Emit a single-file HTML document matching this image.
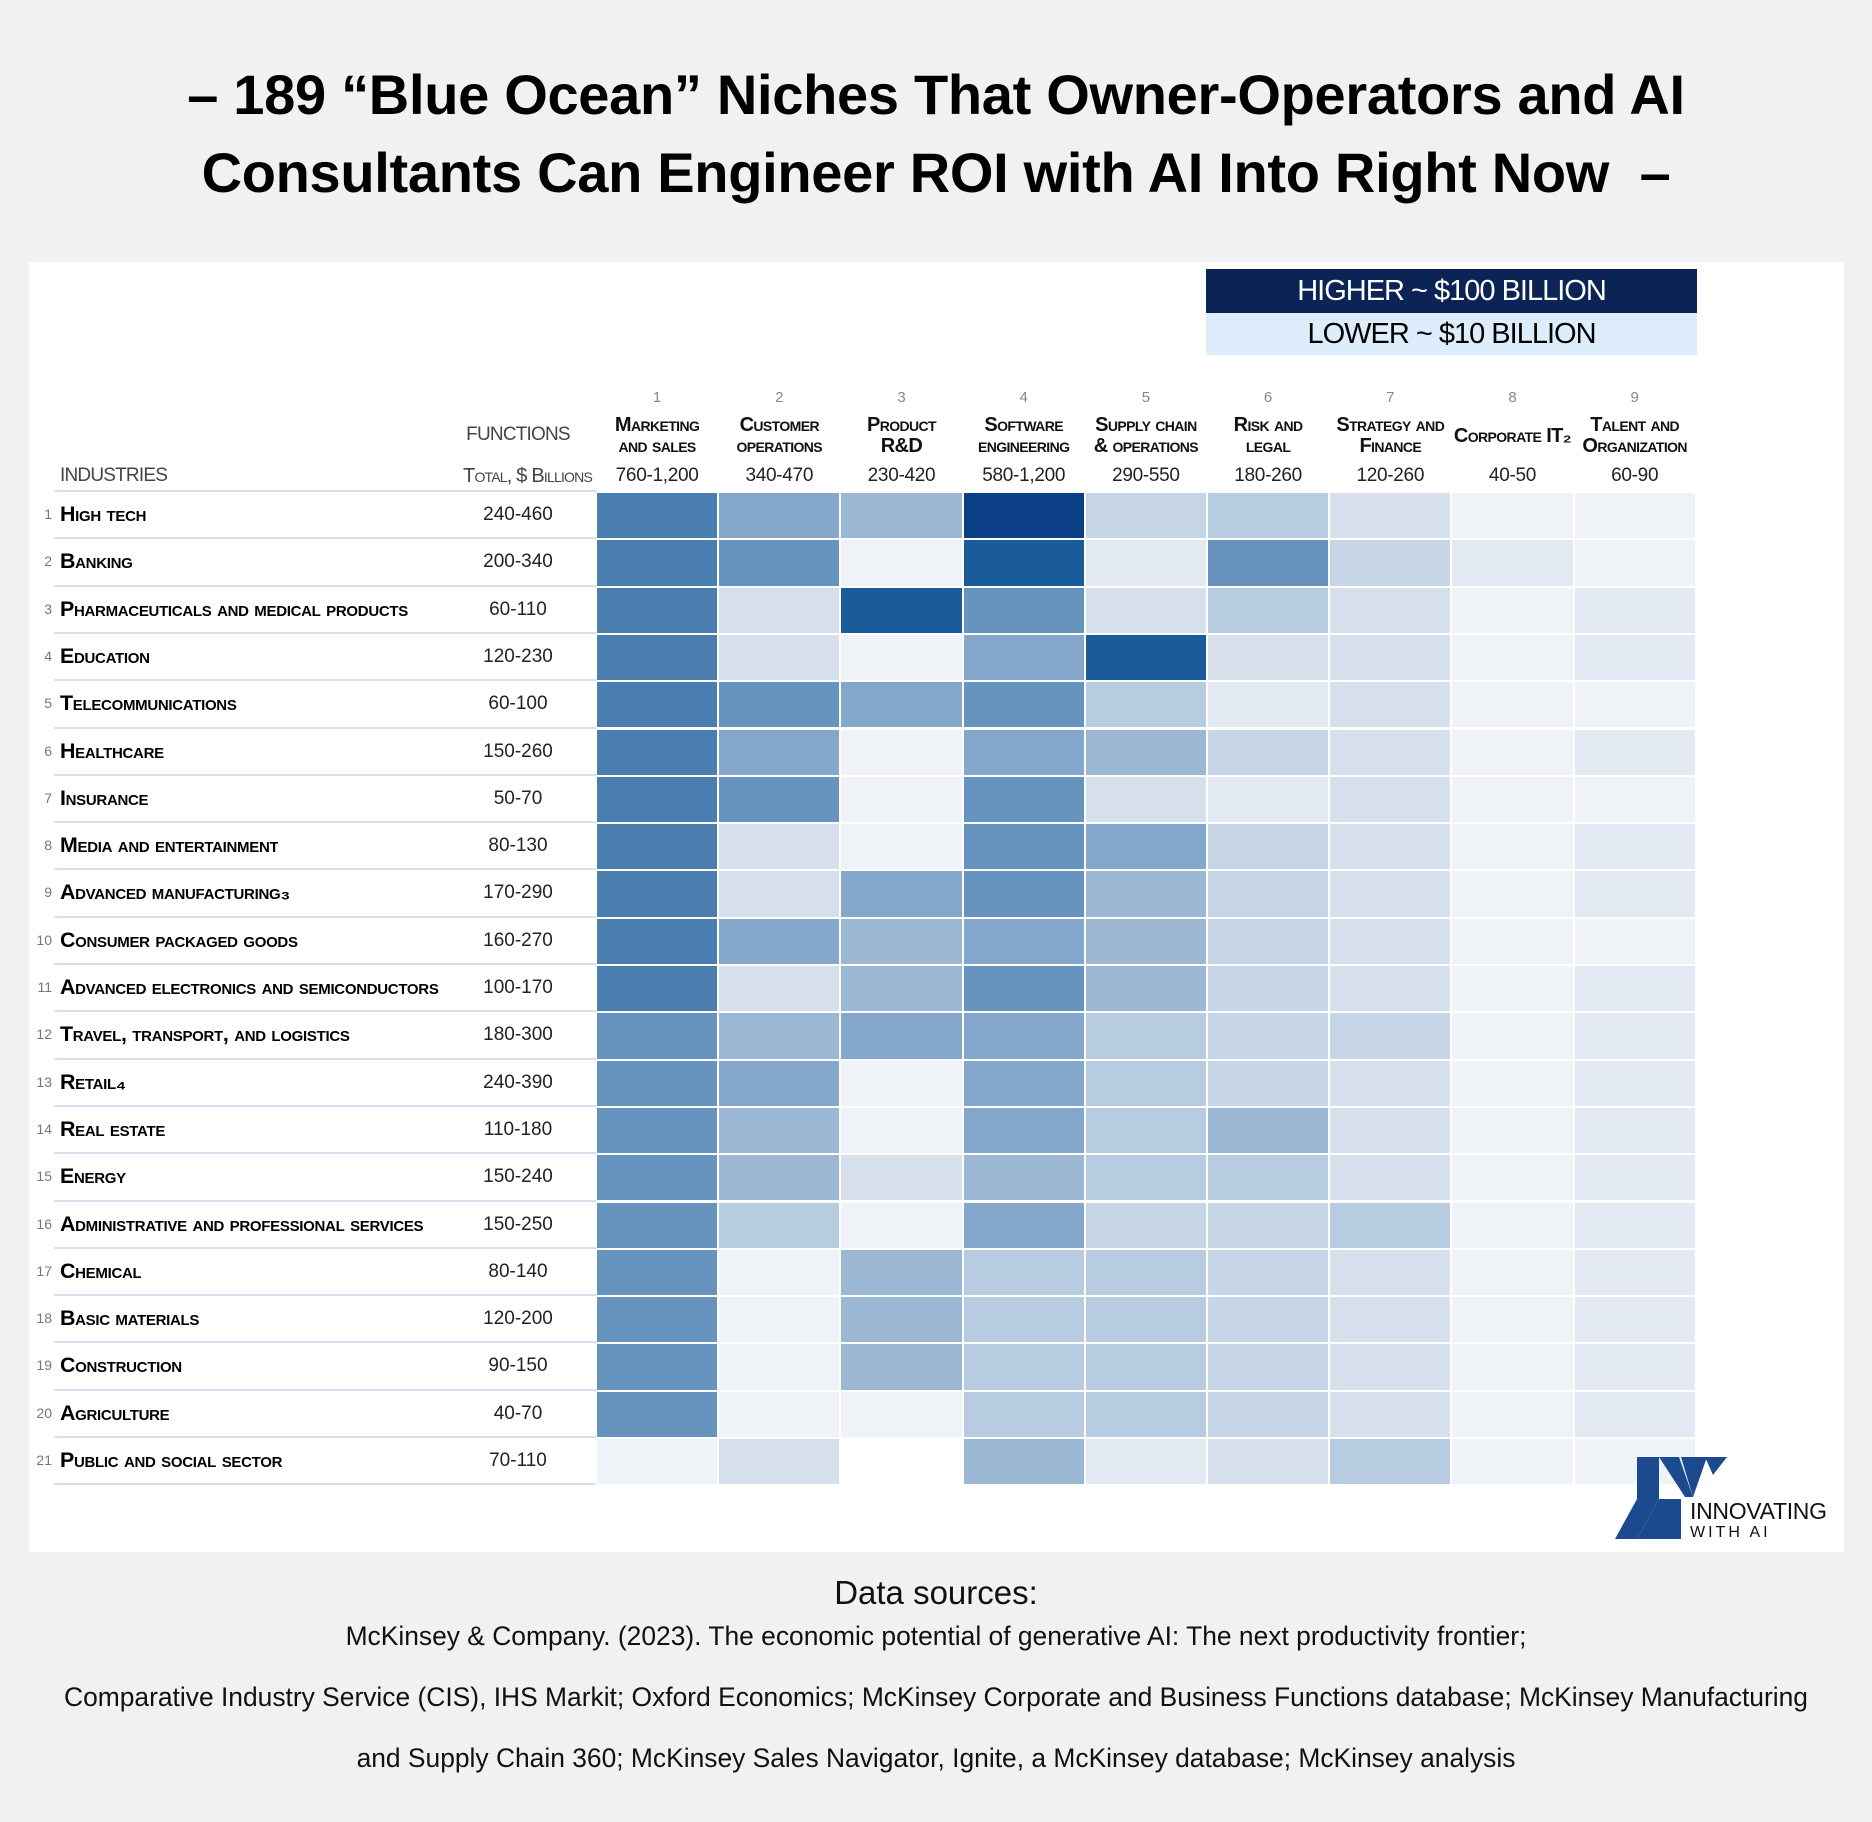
<!DOCTYPE html>
<html><head><meta charset="utf-8">
<style>
html,body{margin:0;padding:0}
body{width:1872px;height:1822px;background:#f1f1f1;position:relative;overflow:hidden;font-family:"Liberation Sans",sans-serif}
.t{position:absolute;left:0;width:1872px;text-align:center;font-weight:900;font-size:56px;color:#000;letter-spacing:-0.3px;white-space:nowrap}
#panel{position:absolute;left:29px;top:262px;width:1815px;height:1290px;background:#fff}
.a{position:absolute;white-space:nowrap}
.sc{font-variant:small-caps;font-weight:bold;letter-spacing:-0.3px}
.hd{text-align:center;font-size:20px;line-height:21px;color:#111;font-variant:small-caps;font-weight:bold;letter-spacing:-0.6px}
.cell{position:absolute}
.src{position:absolute;left:0;width:1872px;text-align:center;color:#111;white-space:nowrap}
</style></head><body>
<div class="t" style="top:62px">– 189 “Blue Ocean” Niches That Owner-Operators and AI</div>
<div class="t" style="top:140px">Consultants Can Engineer ROI with AI Into Right Now&nbsp; –</div>
<div id="panel"></div>
<div class="a" style="left:1206px;top:269px;width:491px;height:44px;background:#0b2455;color:#fff;font-size:29px;line-height:44px;text-align:center;letter-spacing:-1px">HIGHER ~ $100 BILLION</div>
<div class="a" style="left:1206px;top:313px;width:491px;height:42px;background:#deedfb;color:#000;font-size:29px;line-height:42px;text-align:center;letter-spacing:-1px">LOWER ~ $10 BILLION</div>
<div class="a" style="left:440px;top:424px;width:156px;text-align:center;font-size:19px;color:#444;letter-spacing:-0.8px">FUNCTIONS</div>
<div class="a" style="left:60px;top:465px;font-size:19px;color:#444;letter-spacing:-0.8px">INDUSTRIES</div>
<div class="a" style="left:400px;top:465px;width:192px;text-align:right;font-size:20px;color:#444;font-variant:small-caps;letter-spacing:-0.8px">Total, $ Billions</div>
<div id="g"></div>
<svg class="a" style="left:1615px;top:1455px" width="120" height="86" viewBox="0 0 120 86">
<g fill="#1b4b8e">
<rect x="22" y="2" width="22" height="42"/>
<polygon points="44,2 64,2 78,42 70,42"/>
<polygon points="66,2 92,2 78,42"/>
<polygon points="90,2 112,2 98,20"/>
<polygon points="22,44 44,44 22,84"/>
<polygon points="0,84 22,44 22,84"/>
<rect x="44" y="44" width="22" height="40"/>
<polygon points="22,84 44,44 44,84"/>
</g>
</svg>
<div class="a" style="left:1690px;top:1498px;font-size:23px;color:#111;letter-spacing:-0.3px">INNOVATING</div>
<div class="a" style="left:1690px;top:1524px;font-size:16px;color:#111;letter-spacing:3px">WITH AI</div>
<div class="src" style="top:1574px;font-size:33px">Data sources:</div>
<div class="src" style="top:1621px;font-size:26.4px">McKinsey &amp; Company. (2023). The economic potential of generative AI: The next productivity frontier;</div>
<div class="src" style="top:1682px;font-size:26.4px">Comparative Industry Service (CIS), IHS Markit; Oxford Economics; McKinsey Corporate and Business Functions database; McKinsey Manufacturing</div>
<div class="src" style="top:1743px;font-size:26.4px">and Supply Chain 360; McKinsey Sales Navigator, Ignite, a McKinsey database; McKinsey analysis</div>
<script>
var C=["#eff3f8","#e2e9f2","#d5e0ec","#c7d6e6","#b7cbe1","#9db8d4","#86a7cc","#6794bf","#4a7eb0","#1a5b9b","#0b3f86","#ffffff"];
var names=["High tech","Banking","Pharmaceuticals and medical products","Education","Telecommunications","Healthcare","Insurance","Media and entertainment","Advanced manufacturing₃","Consumer packaged goods","Advanced electronics and semiconductors","Travel, transport, and logistics","Retail₄","Real estate","Energy","Administrative and professional services","Chemical","Basic materials","Construction","Agriculture","Public and social sector"];
var tot=["240-460","200-340","60-110","120-230","60-100","150-260","50-70","80-130","170-290","160-270","100-170","180-300","240-390","110-180","150-240","150-250","80-140","120-200","90-150","40-70","70-110"];
var D=[[8,6,5,10,3,4,2,0,0],[8,7,0,9,1,7,3,1,0],[8,2,9,7,2,4,2,0,1],[8,2,0,6,9,2,2,0,1],[8,7,6,7,4,1,2,0,0],[8,6,0,6,5,3,2,0,1],[8,7,0,7,2,1,2,0,0],[8,2,0,7,6,3,2,0,1],[8,2,6,7,5,3,2,0,1],[8,6,5,6,5,3,2,0,0],[8,2,5,7,5,3,2,0,1],[7,5,6,6,4,3,3,0,1],[7,6,0,6,4,3,2,0,1],[7,5,0,6,4,5,2,0,1],[7,5,2,5,4,4,2,0,1],[7,4,0,6,3,3,4,0,1],[7,0,5,4,4,3,2,0,1],[7,0,5,4,4,3,2,0,1],[7,0,5,4,4,3,2,0,1],[7,0,0,4,4,3,2,0,1],[0,2,11,5,1,2,4,0,0]];
var fn=[["Marketing","and sales"],["Customer","operations"],["Product","R&amp;D"],["Software","engineering"],["Supply chain","&amp; operations"],["Risk and","legal"],["Strategy and","Finance"],["Corporate IT₂"],["Talent and","Organization"]];
var ft=["760-1,200","340-470","230-420","580-1,200","290-550","180-260","120-260","40-50","60-90"];
var h="",x0=596,cw=122.2,y0=492,rh=47.3;
for(var j=0;j<9;j++){var x=x0+j*cw;
h+='<div class="a" style="left:'+x+'px;top:389px;width:'+cw+'px;text-align:center;font-size:15px;color:#888">'+(j+1)+'</div>';
var f=fn[j];h+='<div class="a hd" style="left:'+(x-8)+'px;top:'+(f.length==1?426:415)+'px;width:'+(cw+16)+'px">'+f.join('<br>')+'</div>';
h+='<div class="a" style="left:'+x+'px;top:465px;width:'+cw+'px;text-align:center;font-size:19px;color:#222;letter-spacing:-0.3px">'+ft[j]+'</div>';}
h+='<div class="a" style="left:54px;top:'+(y0-2)+'px;width:542px;height:2px;background:#d3e1f0"></div>';
for(var i=0;i<21;i++){var y=y0+i*rh;
h+='<div class="a" style="left:30px;top:'+(y+14)+'px;width:22px;text-align:right;font-size:14px;color:#777">'+(i+1)+'</div>';
h+='<div class="a sc" style="left:60px;top:'+(y+10)+'px;font-size:21.4px;color:#000;max-width:382px;overflow:hidden">'+names[i]+'</div>';
h+='<div class="a" style="left:440px;top:'+(y+12)+'px;width:156px;text-align:center;font-size:19px;color:#222">'+tot[i]+'</div>';
h+='<div class="a" style="left:54px;top:'+(y+rh-2)+'px;width:542px;height:2px;background:#d3e1f0"></div>';
for(var j=0;j<9;j++){h+='<div class="cell" style="left:'+(x0+j*cw+1)+'px;top:'+(y+1)+'px;width:'+(cw-2)+'px;height:'+(rh-2)+'px;background:'+C[D[i][j]]+'"></div>';}}
document.getElementById('g').innerHTML=h;
</script>
</body></html>
